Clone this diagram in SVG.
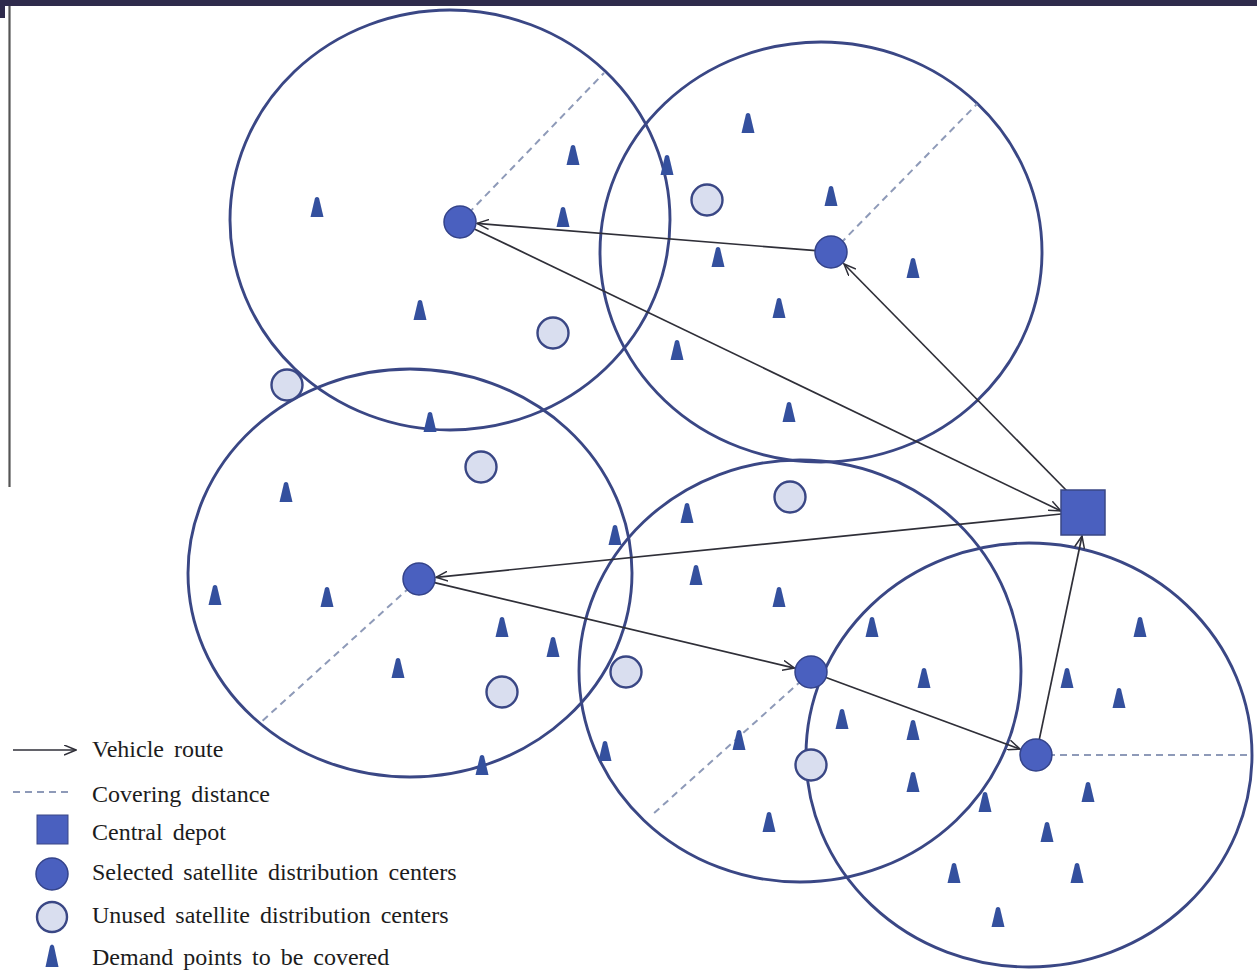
<svg xmlns="http://www.w3.org/2000/svg" xmlns:xlink="http://www.w3.org/1999/xlink" width="1257" height="971" viewBox="0 0 1257 971">
<style>
.ring{fill:none;stroke:#3a4785;stroke-width:2.9}
.sel{fill:#4a60bf;stroke:#34438a;stroke-width:1.5}
.unu{fill:#d9deef;stroke:#3a4785;stroke-width:2.4}
.route{stroke:#2f2f38;stroke-width:1.7;fill:none}
.cover{stroke:#8e9ab8;stroke-width:2;stroke-dasharray:7 5;fill:none}
.lbl{font-family:"Liberation Serif","Times New Roman",serif;font-size:24px;fill:#1c1c1c;word-spacing:4px}
.dem{fill:#34509e}
</style>
<defs>
<path id="tri" d="M-6.5,10 L-2,-9 Q0,-11 2,-9 L6.5,10 Z"/>
<marker id="arr" viewBox="0 0 13 11" refX="12" refY="5.5" markerWidth="13" markerHeight="11" markerUnits="userSpaceOnUse" orient="auto">
<path d="M0,0.5 L12,5.5 L0,10.5" fill="none" stroke="#2f2f38" stroke-width="1.5"/>
</marker>
</defs>
<rect width="1257" height="971" fill="#ffffff"/>
<rect x="0" y="0" width="1257" height="6" fill="#2f2b4c"/>
<rect x="0" y="0" width="5" height="18" fill="#2f2b4c"/>
<line x1="9.5" y1="6" x2="9.5" y2="487" stroke="#555" stroke-width="2.2"/>

<g id="coverage-circles">
<ellipse class="ring" cx="450" cy="220" rx="220" ry="210"/>
<ellipse class="ring" cx="821" cy="252" rx="221" ry="210"/>
<ellipse class="ring" cx="410" cy="573" rx="222" ry="204"/>
<ellipse class="ring" cx="800" cy="671" rx="221" ry="211"/>
<ellipse class="ring" cx="1029" cy="755" rx="223" ry="212"/>
</g>

<g id="covering-distance">
<line class="cover" x1="460" y1="222" x2="604" y2="73"/>
<line class="cover" x1="832" y1="252" x2="977" y2="104"/>
<line class="cover" x1="419" y1="579" x2="260" y2="723"/>
<line class="cover" x1="811" y1="672" x2="652" y2="815"/>
<line class="cover" x1="1036" y1="755" x2="1250" y2="755"/>
</g>

<g id="demand-points" class="dem">
<use href="#tri" x="573" y="155"/>
<use href="#tri" x="317" y="207"/>
<use href="#tri" x="563" y="217"/>
<use href="#tri" x="420" y="310"/>
<use href="#tri" x="430" y="422"/>
<use href="#tri" x="667" y="165"/>
<use href="#tri" x="748" y="123"/>
<use href="#tri" x="831" y="196"/>
<use href="#tri" x="718" y="257"/>
<use href="#tri" x="913" y="268"/>
<use href="#tri" x="779" y="308"/>
<use href="#tri" x="677" y="350"/>
<use href="#tri" x="789" y="412"/>
<use href="#tri" x="286" y="492"/>
<use href="#tri" x="215" y="595"/>
<use href="#tri" x="327" y="597"/>
<use href="#tri" x="398" y="668"/>
<use href="#tri" x="502" y="627"/>
<use href="#tri" x="553" y="647"/>
<use href="#tri" x="615" y="535"/>
<use href="#tri" x="482" y="765"/>
<use href="#tri" x="605" y="751"/>
<use href="#tri" x="687" y="513"/>
<use href="#tri" x="696" y="575"/>
<use href="#tri" x="779" y="597"/>
<use href="#tri" x="872" y="627"/>
<use href="#tri" x="739" y="740"/>
<use href="#tri" x="769" y="822"/>
<use href="#tri" x="842" y="719"/>
<use href="#tri" x="924" y="678"/>
<use href="#tri" x="913" y="730"/>
<use href="#tri" x="913" y="782"/>
<use href="#tri" x="985" y="802"/>
<use href="#tri" x="1067" y="678"/>
<use href="#tri" x="1119" y="698"/>
<use href="#tri" x="1140" y="627"/>
<use href="#tri" x="1088" y="792"/>
<use href="#tri" x="1047" y="832"/>
<use href="#tri" x="1077" y="873"/>
<use href="#tri" x="954" y="873"/>
<use href="#tri" x="998" y="917"/>
</g>

<g id="unused-centers">
<circle class="unu" cx="707" cy="200" r="15.5"/>
<circle class="unu" cx="553" cy="333" r="15.5"/>
<circle class="unu" cx="287" cy="385" r="15.5"/>
<circle class="unu" cx="481" cy="467" r="15.5"/>
<circle class="unu" cx="790" cy="497" r="15.5"/>
<circle class="unu" cx="626" cy="672" r="15.5"/>
<circle class="unu" cx="502" cy="692" r="15.5"/>
<circle class="unu" cx="811" cy="765" r="15.5"/>
</g>

<g id="connectors">
<line class="route" x1="816" y1="250.7" x2="477" y2="223.4" marker-end="url(#arr)"/>
<line class="route" x1="1067" y1="491" x2="844" y2="264" marker-end="url(#arr)"/>
<line class="route" x1="474.4" y1="228.9" x2="1061" y2="511" marker-end="url(#arr)"/>
<line class="route" x1="1061" y1="514" x2="436" y2="577.3" marker-end="url(#arr)"/>
<line class="route" x1="434.6" y1="582.7" x2="794.5" y2="668.1" marker-end="url(#arr)"/>
<line class="route" x1="826" y1="677.5" x2="1020" y2="749.1" marker-end="url(#arr)"/>
<line class="route" x1="1039.3" y1="739.4" x2="1082" y2="536" marker-end="url(#arr)"/>
</g>

<g id="selected-c1"><circle class="sel" cx="460" cy="222" r="16"/></g>
<g id="selected-c2"><circle class="sel" cx="831" cy="252" r="16"/></g>
<g id="selected-c3"><circle class="sel" cx="419" cy="579" r="16"/></g>
<g id="selected-c4"><circle class="sel" cx="811" cy="672" r="16"/></g>
<g id="selected-c5"><circle class="sel" cx="1036" cy="755" r="16"/></g>
<g id="central-depot"><rect x="1061" y="490" width="44" height="45" fill="#4a60bf" stroke="#3a4785" stroke-width="1.5"/></g>

<g id="legend">
<line class="route" x1="13" y1="750" x2="76" y2="750" marker-end="url(#arr)"/>
<text class="lbl" x="92" y="757">Vehicle route</text>
<line class="cover" x1="13" y1="792" x2="70" y2="792" stroke-dasharray="5 4" stroke-width="1.5"/>
<text class="lbl" x="92" y="802">Covering distance</text>
<rect x="37" y="815" width="31" height="29" fill="#4a60bf" stroke="#3a4785" stroke-width="1"/>
<text class="lbl" x="92" y="840">Central depot</text>
<circle class="sel" cx="52" cy="874" r="16"/>
<text class="lbl" x="92" y="880" word-spacing="5">Selected satellite distribution centers</text>
<circle class="unu" cx="52" cy="917" r="15"/>
<text class="lbl" x="92" y="923">Unused satellite distribution centers</text>
<path class="dem" d="M45.5,967 L50,946 Q52,943 54,946 L58.5,967 Z"/>
<text class="lbl" x="92" y="965">Demand points to be covered</text>
</g>
</svg>
